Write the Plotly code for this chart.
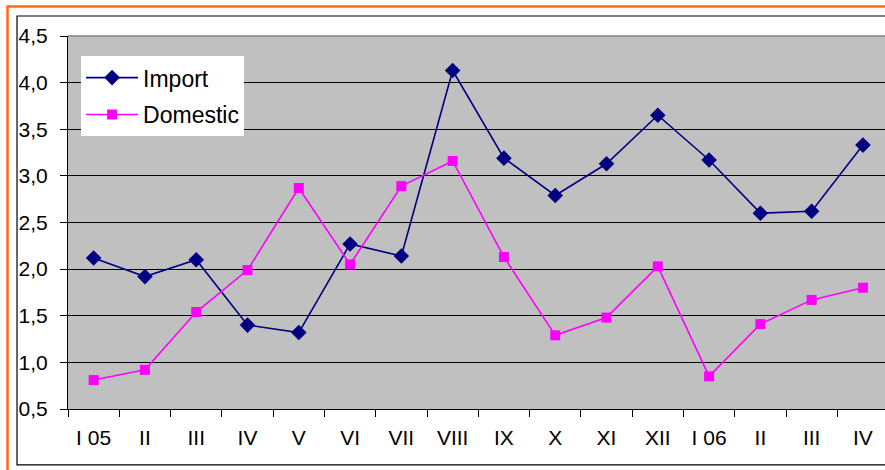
import plotly.graph_objects as go

categories = ["I 05", "II", "III", "IV", "V", "VI", "VII", "VIII", "IX", "X", "XI", "XII", "I 06", "II ", "III ", "IV "]
tick_labels = ["I 05", "II", "III", "IV", "V", "VI", "VII", "VIII", "IX", "X", "XI", "XII", "I 06", "II", "III", "IV"]
import_vals = [2.12, 1.92, 2.10, 1.40, 1.32, 2.27, 2.14, 4.13, 3.19, 2.79, 3.13, 3.65, 3.17, 2.60, 2.62, 3.33]
domestic_vals = [0.81, 0.92, 1.54, 1.99, 2.87, 2.05, 2.89, 3.16, 2.13, 1.29, 1.48, 2.03, 0.85, 1.41, 1.67, 1.80]
y_ticks = [0.5, 1.0, 1.5, 2.0, 2.5, 3.0, 3.5, 4.0, 4.5]

FONT = "Liberation Sans, Arial, sans-serif"

fig = go.Figure()
fig.add_trace(go.Scatter(
    x=categories, y=import_vals, name="Import", mode="lines+markers",
    line=dict(color="#000080", width=1.6),
    marker=dict(symbol="diamond", size=12, color="#000080"),
    legendgroup="a",
))
fig.add_trace(go.Scatter(
    x=categories, y=domestic_vals, name="Domestic", mode="lines+markers",
    line=dict(color="#ff00ff", width=1.6),
    marker=dict(symbol="square", size=10, color="#ff00ff"),
    legendgroup="b",
))

fig.update_layout(
    width=885, height=470,
    margin=dict(l=68, r=0, t=36, b=61),
    paper_bgcolor="white",
    plot_bgcolor="#c0c0c0",
    separators=", ",
    font=dict(family=FONT, size=21, color="black"),
    showlegend=True,
    legend=dict(
        x=0.016, y=0.946, xanchor="left", yanchor="top",
        bgcolor="white", borderwidth=0,
        font=dict(family=FONT, size=23, color="black"),
        tracegroupgap=4, traceorder="grouped",
        itemwidth=52,
    ),
    xaxis=dict(
        type="category",
        categoryorder="array", categoryarray=categories,
        tickvals=categories, ticktext=tick_labels,
        range=[-0.5, 15.43],
        tickson="boundaries",
        ticks="outside", ticklen=7, tickcolor="black", tickwidth=1,
        ticklabelstandoff=10,
        showline=True, linecolor="black", linewidth=1,
        showgrid=False, zeroline=False, automargin=False,
        tickfont=dict(family=FONT, size=21, color="black"),
    ),
    yaxis=dict(
        range=[0.5, 4.5],
        tickvals=y_ticks, tickformat=".1f",
        ticks="outside", ticklen=7, tickcolor="black", tickwidth=1,
        ticklabelstandoff=8,
        showline=True, linecolor="black", linewidth=1,
        showgrid=True, gridcolor="black", gridwidth=1,
        zeroline=False, automargin=False,
        tickfont=dict(family=FONT, size=21, color="black"),
    ),
    shapes=[
        dict(type="rect", xref="paper", yref="paper",
             x0=-0.074, x1=1.05, y0=-0.2, y1=1.079,
             line=dict(color="#ff6a13", width=2.5), layer="below"),
        dict(type="rect", xref="paper", yref="paper",
             x0=-0.0624, x1=1.05, y0=-0.150, y1=1.0536,
             line=dict(color="black", width=1.2), layer="below"),
        dict(type="line", xref="paper", yref="paper",
             x0=0, x1=1, y0=1, y1=1,
             line=dict(color="#808080", width=1.5)),
    ],
)

fig.write_html("out.html", config={"displayModeBar": False},
               post_script="document.body.style.margin='0';")
